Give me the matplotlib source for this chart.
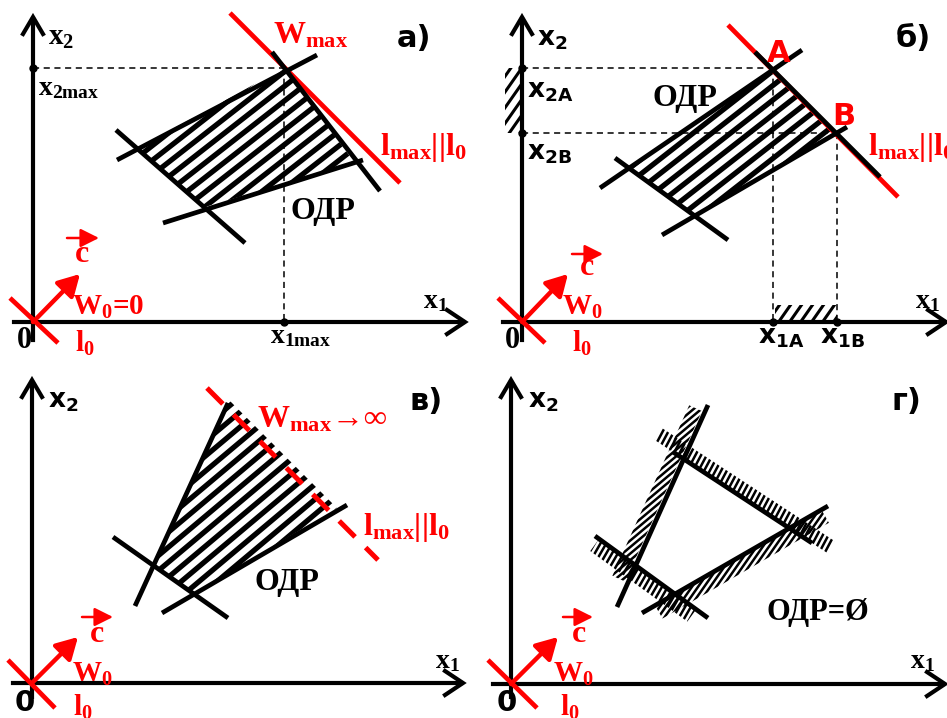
import numpy as np
import matplotlib.pyplot as plt
from matplotlib.patches import Polygon

plt.rcParams['mathtext.fontset'] = 'custom'
plt.rcParams['mathtext.rm'] = 'Liberation Serif:bold'
plt.rcParams['mathtext.bf'] = 'Liberation Serif:bold'
plt.rcParams['mathtext.it'] = 'Liberation Serif:bold'

RED = '#ff0000'
SERIF = 'Liberation Serif'
SANS = 'DejaVu Sans'

# common parts of the four panels (pixel coords, y down)
origins = [(33, 322), (522, 322), (32, 683), (511, 684)]
y_top = [17, 17, 380, 380]
y_bottom = [340, 340, 697, 697]
x_left = [14, 503, 13, 493]
x_right = [465, 946, 463, 945]
l0_lines = [[(10, 298), (58, 343)], [(498, 298), (545, 343)],
            [(8, 660), (55, 708)], [(488, 660), (537, 708)]]
c_tips = [(80, 274), (568, 274), (78, 637), (558, 637)]
c_bars = [[(67, 238), (99, 238)], [(572, 254), (603, 254)],
          [(82, 617), (113, 617)], [(563, 617), (593, 617)]]

# panel а
a_lines = [[(117, 160), (317, 55)], [(116, 130), (245, 243)],
           [(163, 223), (363, 160)], [(272, 52), (380, 191)]]
a_odr = [(284, 68), (138, 148), (205, 207), (355, 163)]
a_wmax = [(230, 13), (400, 183)]
a_dash = [[(33, 68), (284, 68)], [(284, 68), (284, 322)]]
a_dots = [(33, 68), (284, 322)]

# panel б
b_lines = [[(600, 188), (802, 50)], [(615, 158), (728, 240)],
           [(662, 235), (847, 127)], [(755, 52), (880, 177)]]
b_red = [(728, 25), (898, 197)]
b_odr = [(773, 68), (837, 133), (693, 216), (630, 168)]
b_dash = [[(522, 68), (773, 68)], [(522, 133), (837, 133)],
          [(773, 68), (773, 322)], [(837, 133), (837, 322)]]
b_dots = [(522, 68), (522, 133), (773, 322), (837, 322)]
b_bands = [[(505, 68), (520, 68), (520, 133), (505, 133)],
           [(775, 305), (837, 305), (837, 320), (775, 320)]]

# panel в
v_lines = [[(228, 403), (135, 606)], [(113, 537), (228, 618)],
           [(162, 613), (347, 505)]]
v_red = [(207, 388), (378, 560)]
v_odr = [(153, 565), (229, 400), (337, 508), (193, 594)]

# panel г
g_lines = [[(708, 405), (617, 607)], [(673, 452), (812, 543)],
           [(595, 536), (708, 618)], [(642, 613), (828, 506)]]
g_band_t = [(8, 195), (-22, 184), (5, 125), (15, 207)]
g_band_off = [10, -7, 8, 8]
g_band_angle = [40, 62, 60, 55]

fig = plt.figure(figsize=(9.47, 7.18), dpi=100)
ax = fig.add_axes([0, 0, 1, 1])
ax.set_xlim(0, 947)
ax.set_ylim(718, 0)
ax.axis('off')


def seg(p, **kw):
    (x0, y0), (x1, y1) = p
    ax.plot([x0, x1], [y0, y1], solid_capstyle='butt', **kw)


def stripes(poly, step, lw, angle):
    patch = Polygon(poly, closed=True, fc='none', ec='none')
    ax.add_patch(patch)
    pts = np.array(poly, dtype=float)
    c = pts.mean(axis=0)
    r = np.abs(pts - c).max() * 2
    a = np.radians(angle)
    d = np.array([np.cos(a), -np.sin(a)])
    n = np.array([np.sin(a), np.cos(a)])
    for k in np.arange(-r, r, step):
        p0 = c + n * k - d * r
        p1 = c + n * k + d * r
        ln, = ax.plot([p0[0], p1[0]], [p0[1], p1[1]], color='k', lw=lw)
        ln.set_clip_path(patch)


def band(p, t, off, w):
    p0, p1 = np.array(p[0], float), np.array(p[1], float)
    u = (p1 - p0) / np.linalg.norm(p1 - p0)
    n = np.array([-u[1], u[0]])
    a = p0 + u * t[0] + n * off
    b = p0 + u * t[1] + n * off
    return [a - n * w / 2, b - n * w / 2, b + n * w / 2, a + n * w / 2]


def txt(x, y, s, size, color='k', family=SERIF, math='custom'):
    ax.text(x, y, s, fontsize=size, color=color, family=family,
            weight='bold', ha='left', va='baseline', math_fontfamily=math)


# axes, l0, vector c
for i in range(4):
    ox, oy = origins[i]
    ax.plot([ox, ox], [y_bottom[i], y_top[i] + 2], color='k', lw=3)
    ax.plot([x_left[i], x_right[i] - 2], [oy, oy], color='k', lw=3)
    ax.plot([ox - 10, ox, ox + 10], [y_top[i] + 17, y_top[i], y_top[i] + 17],
            color='k', lw=3, solid_joinstyle='miter')
    xr = x_right[i]
    ax.plot([xr - 18, xr, xr - 18], [oy - 12, oy, oy + 12],
            color='k', lw=3, solid_joinstyle='miter')
    seg(l0_lines[i], color=RED, lw=3.4)
    ax.annotate('', xy=c_tips[i], xytext=(ox, oy),
                arrowprops=dict(arrowstyle='-|>,head_length=0.8,head_width=0.45',
                                color=RED, lw=3.2, mutation_scale=16,
                                shrinkA=0, shrinkB=0))
    ax.annotate('', xy=c_bars[i][1], xytext=c_bars[i][0],
                arrowprops=dict(arrowstyle='-|>,head_length=0.7,head_width=0.35',
                                color=RED, lw=1.8, mutation_scale=16,
                                shrinkA=0, shrinkB=0))

# ---- panel а
for p in a_dash:
    seg(p, color='k', lw=1.1, ls=(0, (4, 3)))
stripes(a_odr, 11.5, 3.8, 38)
seg(a_wmax, color=RED, lw=3.4)
for p in a_lines:
    seg(p, color='k', lw=3.4)
ax.plot(*zip(*a_dots), 'o', color='k', ms=5)

txt(48, 45, r'$\mathbf{x}_\mathbf{2}$', 21)
txt(38, 95, r'$\mathbf{x}_\mathbf{2max}$', 20)
txt(423, 308, r'$\mathbf{x}_\mathbf{1}$', 20)
txt(270, 343, r'$\mathbf{x}_\mathbf{1max}$', 20)
txt(17, 348, '0', 22)
txt(75, 352, r'$\mathbf{l}_\mathbf{0}$', 21, RED)
txt(72, 315, r'$\mathbf{W}_\mathbf{0}$=0', 21, RED)
txt(75, 262, 'c', 23, RED)
txt(273, 43, r'$\mathbf{W}_\mathbf{max}$', 23, RED)
txt(380, 155, r'$\mathbf{l}_\mathbf{max}$||$\mathbf{l}_\mathbf{0}$', 23, RED)
txt(290, 219, 'ОДР', 23)
txt(397, 47, 'а)', 22, family=SANS)

# ---- panel б
for p in b_dash:
    seg(p, color='k', lw=1.1, ls=(0, (4, 3)))
for q in b_bands:
    stripes(q, 9, 2.2, 55)
stripes(b_odr, 11.5, 3.8, 38)
seg(b_red, color=RED, lw=3.4)
for p in b_lines:
    seg(p, color='k', lw=3.4)
ax.plot(*zip(*b_dots), 'o', color='k', ms=5)

txt(537, 45, r'$\mathbf{x}_\mathbf{2}$', 19, family=SANS, math='dejavusans')
txt(527, 97, r'$\mathbf{x}_\mathbf{2A}$', 19, family=SANS, math='dejavusans')
txt(527, 160, r'$\mathbf{x}_\mathbf{2B}$', 19, family=SANS, math='dejavusans')
txt(758, 343, r'$\mathbf{x}_\mathbf{1A}$', 19, family=SANS, math='dejavusans')
txt(820, 343, r'$\mathbf{x}_\mathbf{1B}$', 19, family=SANS, math='dejavusans')
txt(915, 308, r'$\mathbf{x}_\mathbf{1}$', 20)
txt(505, 348, '0', 22)
txt(572, 352, r'$\mathbf{l}_\mathbf{0}$', 21, RED)
txt(562, 315, r'$\mathbf{W}_\mathbf{0}$', 21, RED)
txt(580, 275, 'c', 23, RED)
txt(652, 106, 'ОДР', 23)
txt(767, 62, 'A', 22, RED, family=SANS)
txt(832, 125, 'B', 22, RED, family=SANS)
txt(868, 155, r'$\mathbf{l}_\mathbf{max}$||$\mathbf{l}_\mathbf{0}$', 23, RED)
txt(896, 47, 'б)', 22, family=SANS)

# ---- panel в
stripes(v_odr, 11.5, 3.8, 40)
for p in v_lines:
    seg(p, color='k', lw=3.4)
seg(v_red, color=RED, lw=3.6, ls=(0, (4.5, 3)))

txt(48, 407, r'$\mathbf{x}_\mathbf{2}$', 19, family=SANS, math='dejavusans')
txt(435, 668, r'$\mathbf{x}_\mathbf{1}$', 20)
txt(15, 711, '0', 21, family=SANS)
txt(72, 682, r'$\mathbf{W}_\mathbf{0}$', 21, RED)
txt(73, 716, r'$\mathbf{l}_\mathbf{0}$', 21, RED)
txt(90, 642, 'c', 23, RED)
txt(257, 428, r'$\mathbf{W}_\mathbf{max}$→∞', 23, RED, family=[SERIF, SANS])
txt(363, 535, r'$\mathbf{l}_\mathbf{max}$||$\mathbf{l}_\mathbf{0}$', 23, RED)
txt(255, 590, 'ОДР', 23)
txt(410, 410, 'в)', 22, family=SANS)

# ---- panel г
for p, t, off, ang in zip(g_lines, g_band_t, g_band_off, g_band_angle):
    stripes(band(p, t, off, 14), 5, 1.8, ang)
for p in g_lines:
    seg(p, color='k', lw=3.4)

txt(528, 407, r'$\mathbf{x}_\mathbf{2}$', 19, family=SANS, math='dejavusans')
txt(910, 668, r'$\mathbf{x}_\mathbf{1}$', 20)
txt(497, 711, '0', 21, family=SANS)
txt(553, 682, r'$\mathbf{W}_\mathbf{0}$', 21, RED)
txt(560, 716, r'$\mathbf{l}_\mathbf{0}$', 21, RED)
txt(572, 642, 'c', 23, RED)
txt(767, 620, 'ОДР=Ø', 22)
txt(892, 410, 'г)', 22, family=SANS)

fig.savefig('out.png', dpi=100)
